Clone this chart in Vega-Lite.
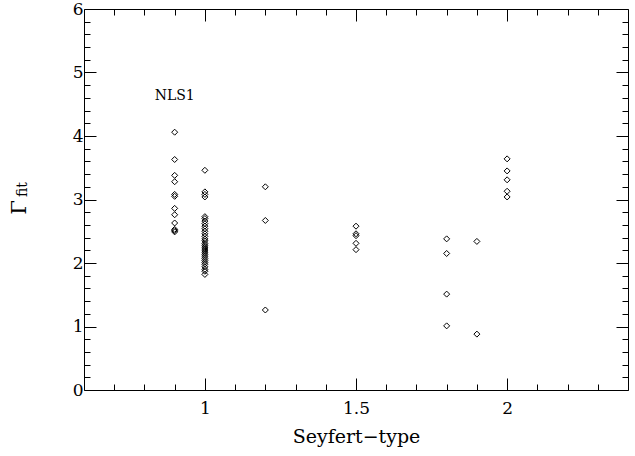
{
  "$schema": "https://vega.github.io/schema/vega-lite/v6.json",
  "width": 544,
  "height": 381,
  "autosize": {"type": "none"},
  "padding": {"left": 84, "top": 9, "right": 7, "bottom": 66},
  "background": "white",
  "config": {
    "view": {"stroke": "black", "strokeWidth": 1},
    "axis": {"grid": false, "domain": false, "tickColor": "black", "labelColor": "black", "titleColor": "black", "labelFont": "DejaVu Serif", "titleFont": "DejaVu Serif", "titleFontWeight": "normal", "tickWidth": 1}
  },
  "datasets": {
    "pts": [
      {"type": 0.9, "gamma": 4.06}, {"type": 0.9, "gamma": 3.63}, {"type": 0.9, "gamma": 3.38}, {"type": 0.9, "gamma": 3.28},
      {"type": 0.9, "gamma": 3.08}, {"type": 0.9, "gamma": 3.05}, {"type": 0.9, "gamma": 2.86}, {"type": 0.9, "gamma": 2.76},
      {"type": 0.9, "gamma": 2.63}, {"type": 0.9, "gamma": 2.53}, {"type": 0.9, "gamma": 2.51}, {"type": 0.9, "gamma": 2.49},
      {"type": 1.0, "gamma": 3.46}, {"type": 1.0, "gamma": 3.12}, {"type": 1.0, "gamma": 3.08}, {"type": 1.0, "gamma": 3.04},
      {"type": 1.0, "gamma": 2.73}, {"type": 1.0, "gamma": 2.70}, {"type": 1.0, "gamma": 2.66}, {"type": 1.0, "gamma": 2.62},
      {"type": 1.0, "gamma": 2.58}, {"type": 1.0, "gamma": 2.54}, {"type": 1.0, "gamma": 2.50}, {"type": 1.0, "gamma": 2.46},
      {"type": 1.0, "gamma": 2.42}, {"type": 1.0, "gamma": 2.38}, {"type": 1.0, "gamma": 2.35}, {"type": 1.0, "gamma": 2.31},
      {"type": 1.0, "gamma": 2.28}, {"type": 1.0, "gamma": 2.25}, {"type": 1.0, "gamma": 2.22}, {"type": 1.0, "gamma": 2.19},
      {"type": 1.0, "gamma": 2.16}, {"type": 1.0, "gamma": 2.13}, {"type": 1.0, "gamma": 2.10}, {"type": 1.0, "gamma": 2.07},
      {"type": 1.0, "gamma": 2.04}, {"type": 1.0, "gamma": 2.01}, {"type": 1.0, "gamma": 1.98}, {"type": 1.0, "gamma": 1.94},
      {"type": 1.0, "gamma": 1.90}, {"type": 1.0, "gamma": 1.87}, {"type": 1.0, "gamma": 1.82},
      {"type": 1.2, "gamma": 3.20}, {"type": 1.2, "gamma": 2.67}, {"type": 1.2, "gamma": 1.26},
      {"type": 1.5, "gamma": 2.58}, {"type": 1.5, "gamma": 2.46}, {"type": 1.5, "gamma": 2.43}, {"type": 1.5, "gamma": 2.31}, {"type": 1.5, "gamma": 2.21},
      {"type": 1.8, "gamma": 2.38}, {"type": 1.8, "gamma": 2.15}, {"type": 1.8, "gamma": 1.51}, {"type": 1.8, "gamma": 1.01},
      {"type": 1.9, "gamma": 2.34}, {"type": 1.9, "gamma": 0.88},
      {"type": 2.0, "gamma": 3.64}, {"type": 2.0, "gamma": 3.45}, {"type": 2.0, "gamma": 3.31}, {"type": 2.0, "gamma": 3.13}, {"type": 2.0, "gamma": 3.04}
    ],
    "labels": [{"type": 0.9, "gamma": 4.63, "text": "NLS1"}]
  },
  "resolve": {"axis": {"x": "independent", "y": "independent"}},
  "layer": [
    {
      "data": {"name": "pts"},
      "mark": {"type": "point", "shape": "diamond", "size": 36, "filled": false, "stroke": "black", "strokeWidth": 1, "opacity": 1},
      "encoding": {
        "x": {"field": "type", "type": "quantitative", "scale": {"domain": [0.6, 2.4], "nice": false, "zero": false},
          "axis": {"orient": "bottom", "values": [1, 1.5, 2], "format": ".1~f", "tickSize": -12, "labelPadding": 22, "labelFontSize": 17, "title": "Seyfert−type", "titleFontSize": 19, "titlePadding": 11}},
        "y": {"field": "gamma", "type": "quantitative", "scale": {"domain": [0, 6], "nice": false, "zero": false},
          "axis": {"orient": "left", "values": [0, 1, 2, 3, 4, 5, 6], "tickSize": -12, "labelPadding": 13, "labelFontSize": 17,
            "title": "Γ", "titleFontSize": 21, "titleAngle": -90, "titleAlign": "center", "titleBaseline": "middle", "titleX": -65, "titleY": 198}}
      }
    },
    {
      "data": {"name": "pts"},
      "mark": {"type": "point", "opacity": 0},
      "encoding": {
        "x": {"field": "type", "type": "quantitative",
          "axis": {"orient": "bottom", "values": [0.7, 0.8, 0.9, 1.1, 1.2, 1.3, 1.4, 1.6, 1.7, 1.8, 1.9, 2.1, 2.2, 2.3], "tickSize": -6, "labels": false, "title": null}},
        "y": {"field": "gamma", "type": "quantitative",
          "axis": {"orient": "left", "values": [0.2, 0.4, 0.6, 0.8, 1.2, 1.4, 1.6, 1.8, 2.2, 2.4, 2.6, 2.8, 3.2, 3.4, 3.6, 3.8, 4.2, 4.4, 4.6, 4.8, 5.2, 5.4, 5.6, 5.8], "tickSize": -6, "labels": false,
            "title": "fit", "titleFontSize": 14, "titleAngle": -90, "titleAlign": "center", "titleBaseline": "middle", "titleX": -62, "titleY": 180}}
      }
    },
    {
      "data": {"name": "pts"},
      "mark": {"type": "point", "opacity": 0},
      "encoding": {
        "x": {"field": "type", "type": "quantitative",
          "axis": {"orient": "top", "values": [1, 1.5, 2], "tickSize": -12, "labels": false, "title": null}},
        "y": {"field": "gamma", "type": "quantitative",
          "axis": {"orient": "right", "values": [0, 1, 2, 3, 4, 5, 6], "tickSize": -12, "labels": false, "title": null}}
      }
    },
    {
      "data": {"name": "pts"},
      "mark": {"type": "point", "opacity": 0},
      "encoding": {
        "x": {"field": "type", "type": "quantitative",
          "axis": {"orient": "top", "values": [0.7, 0.8, 0.9, 1.1, 1.2, 1.3, 1.4, 1.6, 1.7, 1.8, 1.9, 2.1, 2.2, 2.3], "tickSize": -6, "labels": false, "title": null}},
        "y": {"field": "gamma", "type": "quantitative",
          "axis": {"orient": "right", "values": [0.2, 0.4, 0.6, 0.8, 1.2, 1.4, 1.6, 1.8, 2.2, 2.4, 2.6, 2.8, 3.2, 3.4, 3.6, 3.8, 4.2, 4.4, 4.6, 4.8, 5.2, 5.4, 5.6, 5.8], "tickSize": -6, "labels": false, "title": null}}
      }
    },
    {
      "data": {"name": "labels"},
      "mark": {"type": "text", "font": "DejaVu Serif", "fontSize": 14, "color": "black", "baseline": "middle", "align": "center"},
      "encoding": {
        "x": {"field": "type", "type": "quantitative", "axis": null},
        "y": {"field": "gamma", "type": "quantitative", "axis": null},
        "text": {"field": "text"}
      }
    }
  ]
}
